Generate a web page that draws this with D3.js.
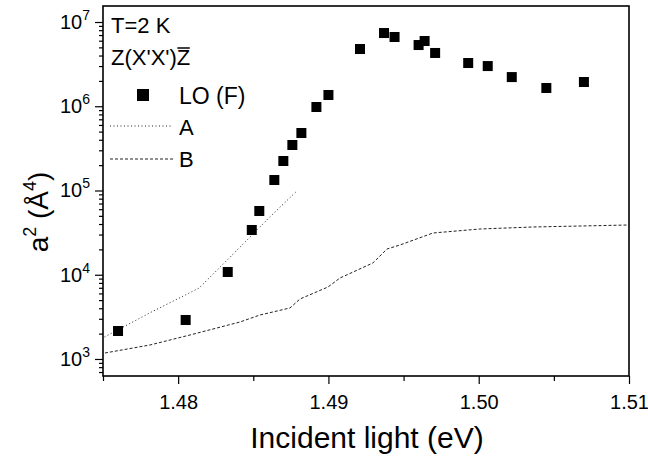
<!DOCTYPE html>
<html><head><meta charset="utf-8">
<script src="https://cdn.jsdelivr.net/npm/d3@7"></script>
<style>body{margin:0;background:#fff}svg{display:block}text{font-family:Arial,"Liberation Sans",sans-serif;fill:#000}</style>
</head><body>
<svg id="c" width="648" height="458"></svg>
<script>
// LO (F) data points
const loX = [1.4760,1.4805,1.4833,1.4849,1.4854,1.4864,1.4870,1.4876,1.4882,1.4892,1.4900,1.4921,1.4937,1.4944,1.4960,1.4964,1.4971,1.4993,1.5006,1.5022,1.5045,1.5070];
const loY = [2149,2903,10780,33980,57110,133200,223900,346800,481400,979700,1360000,4780000,7400000,6640000,5330000,5950000,4290000,3260000,3000000,2220000,1647000,1940000];
// Curve A (dotted)
const aX = [1.4751,1.4781,1.4814,1.4834,1.4861,1.4879];
const aY = [1824,3516,6961,15800,48480,98630];
// Curve B (dashed)
const bX = [1.47513,1.47813,1.48079,1.48412,1.48545,1.48744,1.48811,1.48997,1.49077,1.49296,1.49390,1.49476,1.49696,1.50008,1.50361,1.51];
const bY = [1178,1466,1927,2750,3329,4030,5154,7154,9150,13790,20210,22550,31300,34910,36880,38950];
// axes
const xTickVals = [1.48,1.49,1.50,1.51];
const xTickLabels = ["1.48","1.49","1.50","1.51"];
const xMinorVals = [1.475,1.485,1.495,1.505];
const yExps = [3,4,5,6,7];
const xDomain = [1.475,1.51];
const yDomain = [628,1.549e7];

const L=103,R=629,T=6,B=376;
const svg=d3.select("#c");
const x=d3.scaleLinear().domain(xDomain).range([L,R]);
const y=d3.scaleLog().domain(yDomain).range([B,T]);

// y minor ticks
const yMinor=[];
for(let e=2;e<=7;e++){for(let m=2;m<=9;m++){const v=m*Math.pow(10,e);if(v>=yDomain[0]&&v<=yDomain[1])yMinor.push(v);}}
const gy=svg.append("g").attr("transform",`translate(${L},0)`);
gy.call(d3.axisLeft(y).tickValues(yMinor).tickSize(4).tickFormat(""));
gy.call(g=>g.select(".domain").remove());
const gyM=svg.append("g").attr("transform",`translate(${L},0)`);
gyM.call(d3.axisLeft(y).tickValues(yExps.map(e=>Math.pow(10,e))).tickSize(8).tickFormat(""));
gyM.call(g=>g.select(".domain").remove());
// y labels
yExps.forEach(e=>{
  const t=svg.append("text").attr("x",90).attr("y",y(Math.pow(10,e))+7).attr("text-anchor","end").attr("font-size",20);
  t.append("tspan").text("10");
  t.append("tspan").attr("font-size",14).attr("dy",-9).text(String(e));
});

// x ticks
const gx=svg.append("g").attr("transform",`translate(0,${B})`);
gx.call(d3.axisBottom(x).tickValues(xTickVals).tickSize(8).tickFormat((d,i)=>xTickLabels[i]));
gx.call(g=>g.select(".domain").remove());
gx.selectAll("text").attr("font-size",20).attr("dy","1.1em").attr("font-family","Arial, 'Liberation Sans', sans-serif").attr("fill","#000");
const gx2=svg.append("g").attr("transform",`translate(0,${B})`);
gx2.call(d3.axisBottom(x).tickValues(xMinorVals).tickSize(5).tickFormat(""));
gx2.call(g=>g.select(".domain").remove());
svg.selectAll(".tick line").attr("stroke","#000").attr("stroke-width",1.2);

// frame
svg.append("rect").attr("x",L).attr("y",T).attr("width",R-L).attr("height",B-T).attr("fill","none").attr("stroke","#000").attr("stroke-width",1.6);

// curves
const line=d3.line().x(d=>x(d[0])).y(d=>y(d[1]));
svg.append("path").datum(aX.map((v,i)=>[v,aY[i]])).attr("d",line).attr("fill","none").attr("stroke","#222").attr("stroke-width",1).attr("stroke-dasharray","1,2.5");
svg.append("path").datum(bX.map((v,i)=>[v,bY[i]])).attr("d",line).attr("fill","none").attr("stroke","#222").attr("stroke-width",1).attr("stroke-dasharray","3,2");

// points
const s=10;
svg.append("g").selectAll("rect").data(loX.map((v,i)=>[v,loY[i]])).join("rect")
  .attr("x",d=>x(d[0])-s/2).attr("y",d=>y(d[1])-s/2).attr("width",s).attr("height",s).attr("fill","#000");

// annotation / legend
svg.append("text").attr("x",111).attr("y",33).attr("font-size",22).text("T=2 K");
const zt=svg.append("text").attr("x",111).attr("y",65).attr("font-size",22);
zt.append("tspan").text("Z(X'X')");
const zb=zt.append("tspan").text("Z");
{
  const full=zt.node().getComputedTextLength();
  const zw=zb.node().getComputedTextLength();
  svg.append("line").attr("x1",111+full-zw+0.5).attr("x2",111+full-0.5).attr("y1",48).attr("y2",48).attr("stroke","#000").attr("stroke-width",1.5);
}
svg.append("rect").attr("x",137).attr("y",89).attr("width",12).attr("height",12).attr("fill","#000");
svg.append("text").attr("x",179).attr("y",104).attr("font-size",23).text("LO (F)");
svg.append("line").attr("x1",110).attr("x2",173).attr("y1",126).attr("y2",126).attr("stroke","#222").attr("stroke-width",1).attr("stroke-dasharray","1,2.5");
svg.append("text").attr("x",179).attr("y",135).attr("font-size",22).text("A");
svg.append("line").attr("x1",110).attr("x2",173).attr("y1",159).attr("y2",159).attr("stroke","#222").attr("stroke-width",1).attr("stroke-dasharray","3,2");
svg.append("text").attr("x",179).attr("y",167).attr("font-size",22).text("B");

// axis titles
svg.append("text").attr("x",367).attr("y",448).attr("text-anchor","middle").attr("font-size",30).text("Incident light (eV)");
const yt=svg.append("text").attr("transform","translate(48,212) rotate(-90)").attr("text-anchor","middle").attr("font-size",28);
yt.append("tspan").text("a");
yt.append("tspan").attr("font-size",18).attr("dy",-12).text("2");
yt.append("tspan").attr("dy",12).text(" (Å");
yt.append("tspan").attr("font-size",18).attr("dy",-12).text("4");
yt.append("tspan").attr("dy",12).text(")");
</script>
</body></html>
